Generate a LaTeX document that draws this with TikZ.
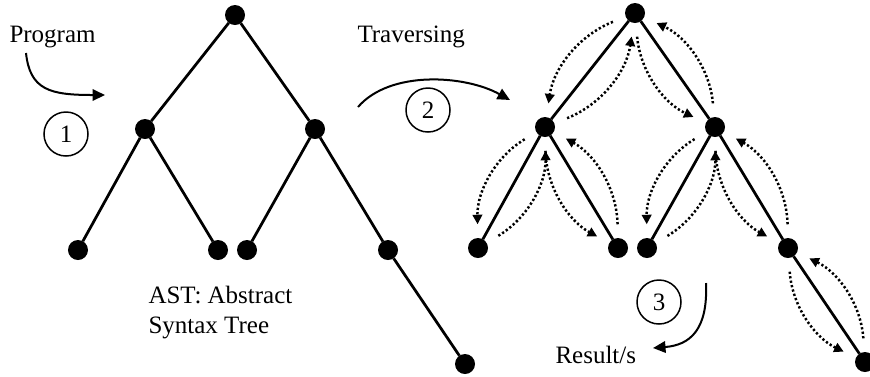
\documentclass[tikz,border=0pt]{standalone}
\usepackage{fontspec}
\setmainfont{Liberation Serif}
\usetikzlibrary{arrows.meta,positioning}

\begin{document}
\begin{tikzpicture}[x=0.4pt,y=0.4pt]
\tikzstyle{dot}=[circle, fill=black, inner sep=0pt, outer sep=0pt,
	minimum size=8pt, on grid
]
\tikzstyle{branch}=[line width=1.1pt]
\tikzstyle{walk}=[line width=1pt, dash pattern=on 0.9pt off 0.9pt,
	-{Triangle[length=3.8pt,width=3.8pt]}, shorten <=5.5pt, shorten >=5.5pt
]
\tikzstyle{num}=[circle, draw, line width=0.6pt, minimum size=17.6pt, inner sep=0pt]
\tikzstyle{flow}=[line width=0.8pt, -{Triangle[length=5pt,width=4.6pt]}]
\tikzstyle{label}=[inner sep=0pt]
\useasboundingbox (0,0) rectangle (870,-376);

% program tree
\node[dot] (a) at (235,-15) {};
\node[dot, below left = 45.6pt and 36pt of a] (b) {};
\node[dot, below right = 45.6pt and 32pt of a] (c) {};
\node[dot, below left = 48.4pt and 26.8pt of b] (d) {};
\node[dot, below right = 48.4pt and 29.2pt of b] (e) {};
\node[dot, below left = 48.4pt and 27.2pt of c] (f) {};
\node[dot, below right = 48.4pt and 29.2pt of c] (g) {};
\node[dot, below right = 45.6pt and 30.8pt of g] (h) {};
\path[branch] (a) edge (b) (a) edge (c) ;
\path[branch] (b) edge (d) (b) edge (e) ;
\path[branch] (c) edge (f) (c) edge (g) ;
\path[branch] (g) edge (h) ;

% traversed tree
\node[dot] (ta) at (635,-13) {};
\node[dot, below left = 45.6pt and 36pt of ta] (tb) {};
\node[dot, below right = 45.6pt and 32pt of ta] (tc) {};
\node[dot, below left = 48.4pt and 26.8pt of tb] (td) {};
\node[dot, below right = 48.4pt and 29.2pt of tb] (te) {};
\node[dot, below left = 48.4pt and 27.2pt of tc] (tf) {};
\node[dot, below right = 48.4pt and 29.2pt of tc] (tg) {};
\node[dot, below right = 45.6pt and 30.8pt of tg] (th) {};
\path[branch] (ta) edge (tb) (ta) edge (tc) ;
\path[branch] (tb) edge (td) (tb) edge (te) ;
\path[branch] (tc) edge (tf) (tc) edge (tg) ;
\path[branch] (tg) edge (th) ;

% walk down and back up every branch
\path[walk] (ta) edge[bend right=30] (tb) (tb) edge[bend right=30] (ta) ;
\path[walk] (ta) edge[bend right=30] (tc) (tc) edge[bend right=30] (ta) ;
\path[walk] (tb) edge[bend right=30] (td) (td) edge[bend right=30] (tb) ;
\path[walk] (tb) edge[bend right=30] (te) (te) edge[bend right=30] (tb) ;
\path[walk] (tc) edge[bend right=30] (tf) (tf) edge[bend right=30] (tc) ;
\path[walk] (tc) edge[bend right=30] (tg) (tg) edge[bend right=30] (tc) ;
\path[walk] (tg) edge[bend right=30] (th) (th) edge[bend right=30] (tg) ;

% labels and steps
\node[label, anchor=base west] (prog) at (9,-42) {Program};
\node[label, anchor=base west] (trav) at (357,-42) {Traversing};
\node[label, anchor=west, align=left] (ast) at (148,-313) {AST: Abstract\\Syntax Tree};
\node[label, anchor=base west] (res) at (555,-363) {Result/s};
\node[num] (n1) at (66,-134) {1};
\node[num] (n2) at (428,-110) {2};
\node[num] (n3) at (659,-302) {3};

\coordinate (p1) at (26,-53);
\coordinate (p2) at (105,-95);
\coordinate (t1) at (358,-107);
\coordinate (t2) at (510,-100);
\coordinate (r1) at (706,-283);
\coordinate (r2) at (653,-348);
\draw[flow] (p1) .. controls (30,-90) and (50,-95) .. (p2);
\draw[flow] (t1) .. controls (390,-70) and (465,-75) .. (t2);
\draw[flow] (r1) .. controls (708,-330) and (690,-345) .. (r2);

\end{tikzpicture}
\end{document}
